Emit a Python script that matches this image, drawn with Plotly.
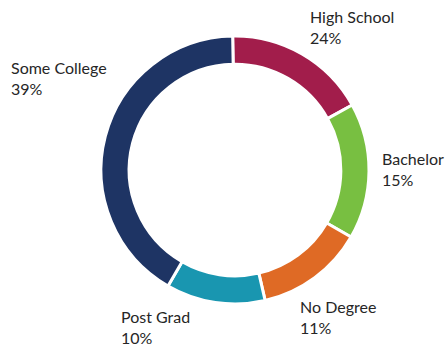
import plotly.graph_objects as go

# Categories in clockwise order starting at 12 o'clock
categories = ["High School", "Bachelor", "No Degree", "Post Grad", "Some College"]
# Slice sizes as drawn (angular share, degrees)
slice_sizes = [62, 59, 47, 43, 149]
# Percent labels printed on the chart
pct_labels = ["24%", "15%", "11%", "10%", "39%"]
colors = ["#a21d4b", "#78bf41", "#df6a25", "#1996b0", "#1e3464"]

W, H = 448, 347
cx, cy, r = 235, 170, 134

fig = go.Figure(go.Pie(
    labels=categories,
    values=slice_sizes,
    sort=False,
    direction="clockwise",
    rotation=-1,
    hole=0.79,
    textinfo="none",
    hoverinfo="label+text",
    text=pct_labels,
    marker=dict(colors=colors, line=dict(color="white", width=3)),
    domain=dict(x=[(cx - r) / W, (cx + r) / W],
                y=[(H - cy - r) / H, (H - cy + r) / H]),
    showlegend=False,
))

# label anchor (left, top) positions in pixels
label_pos = {
    "Some College": (10, 57),
    "High School": (309, 6),
    "Bachelor": (381, 148),
    "No Degree": (299, 296),
    "Post Grad": (120, 306),
}
for cat, pct in zip(categories, pct_labels):
    px, py = label_pos[cat]
    fig.add_annotation(
        x=px / W, y=1 - py / H, xref="paper", yref="paper",
        xanchor="left", yanchor="top", align="left",
        text=f"{cat}<br>{pct}", showarrow=False, borderpad=0,
        font=dict(family="Lato", size=16, color="#262626"),
    )

fig.update_layout(
    width=W, height=H,
    margin=dict(l=0, r=0, t=0, b=0),
    paper_bgcolor="white", plot_bgcolor="white",
)
fig.write_html("out.html", config={"displayModeBar": False},
               post_script="document.body.style.margin='0';")
